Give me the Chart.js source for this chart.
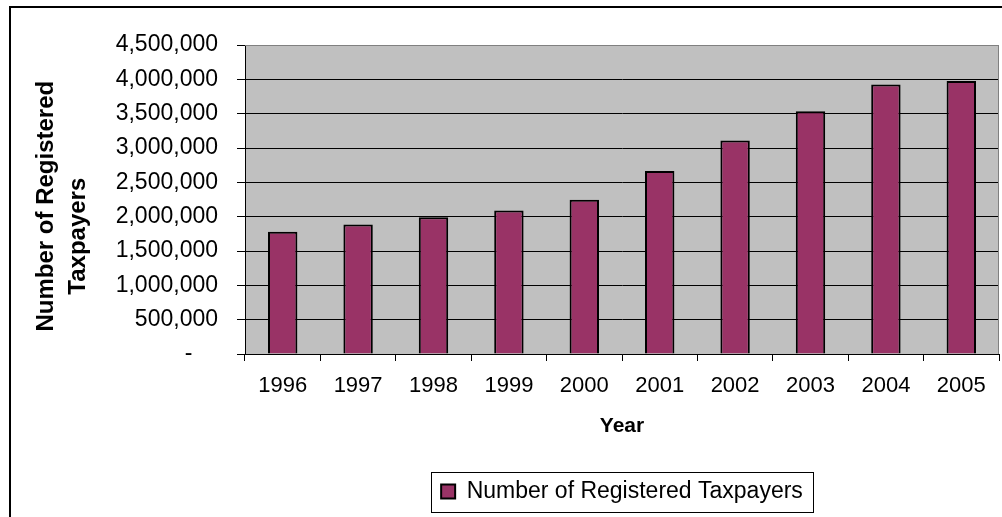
<!DOCTYPE html>
<html>
<head>
<meta charset="utf-8">
<title>Registered Taxpayers</title>
<script src="https://cdn.jsdelivr.net/npm/chart.js@4.4.1/dist/chart.umd.min.js"></script>
<style>
  body { margin: 0; background: #fff; overflow: hidden; }
  .frame { position: absolute; left: 9px; top: 6px; width: 1100px; height: 600px; border-top: 2px solid #000; border-left: 2px solid #000; }
  #myChart { position: absolute; left: 0; top: 0; }
</style>
</head>
<body>
<div class="frame"></div>
<canvas id="myChart" width="1002" height="517"></canvas>
<script>
const years = ['1996', '1997', '1998', '1999', '2000', '2001', '2002', '2003', '2004', '2005']
const taxpayers = [1780000, 1885000, 1990000, 2090000, 2245000, 2665000, 3110000, 3535000, 3925000, 3975000]
const yTickValues = [0, 500000, 1000000, 1500000, 2000000, 2500000, 3000000, 3500000, 4000000, 4500000]

const seriesLabel = 'Number of Registered Taxpayers'
// trailing spaces nudge each rotated line down a bit, like the original
const yTitle = ['Number of Registered  ', 'Taxpayers' + ' '.repeat(11)]
const xTitle = 'Year'

const fontFamily = '"Liberation Sans", Arial, sans-serif'

// grey plot background + frame, box round the legend
const plotBg = {
  id: 'plotBg',
  beforeDraw(chart) {
    const { ctx, chartArea: a } = chart
    ctx.save()
    ctx.fillStyle = '#c0c0c0'
    ctx.fillRect(a.left, a.top, a.right - a.left, a.bottom - a.top)
    ctx.restore()
  },
  afterDraw(chart) {
    const { ctx, chartArea: a } = chart
    ctx.save()
    ctx.strokeStyle = '#808080'
    ctx.lineWidth = 1
    ctx.beginPath()
    ctx.moveTo(a.left, a.top + 0.5)
    ctx.lineTo(a.right - 0.5, a.top + 0.5)
    ctx.lineTo(a.right - 0.5, a.bottom)
    ctx.stroke()

    const hb = chart.legend.legendHitBoxes[0]
    if (hb) {
      const cy = hb.top + hb.height / 2
      ctx.strokeStyle = '#000'
      ctx.strokeRect(Math.round(hb.left - 10) + 0.5, Math.round(cy - 20) + 0.5, Math.round(hb.width + 20), 40)
    }
    ctx.restore()
  }
}

let chart = document.querySelector('#myChart')

let myChart = new Chart(chart, {
  type: 'bar',
  data: {
    labels: years,
    datasets: [
      {
        label: seriesLabel,
        data: taxpayers,
        backgroundColor: '#993366',
        borderColor: '#000',
        borderWidth: 2,
        barPercentage: 0.39,
        categoryPercentage: 1.0
      }
    ]
  },
  options: {
    responsive: false,
    animation: false,
    devicePixelRatio: 1,
    layout: {
      padding: { top: 45, right: 3, left: 0, bottom: 4 }
    },
    plugins: {
      tooltip: { enabled: false },
      legend: {
        position: 'bottom',
        fullSize: false,
        labels: {
          boxWidth: 14,
          boxHeight: 14,
          padding: 4,
          color: '#000',
          font: { family: fontFamily, size: 23 }
        }
      }
    },
    scales: {
      x: {
        afterFit(scale) { scale.height = 122 },
        grid: {
          offset: true,
          drawOnChartArea: false,
          color: '#000',
          tickLength: 7
        },
        border: { color: '#000', width: 1 },
        ticks: {
          color: '#000',
          padding: 12,
          maxRotation: 0,
          autoSkip: false,
          font: { family: fontFamily, size: 22 }
        },
        title: {
          display: true,
          text: xTitle,
          color: '#000',
          padding: { top: 0, bottom: 37 },
          font: { family: fontFamily, size: 21, weight: 'bold' }
        }
      },
      y: {
        min: 0,
        max: 4500000,
        afterFit(scale) { scale.width = 245 },
        afterBuildTicks(scale) {
          scale.ticks = yTickValues.map(v => ({ value: v }))
        },
        grid: {
          color: ctx => (ctx.tick && ctx.tick.value === 4500000 ? '#808080' : '#000'),
          tickColor: '#000',
          tickLength: 8
        },
        border: { color: '#000', width: 1 },
        ticks: {
          color: '#000',
          padding: 19,
          font: { family: fontFamily, size: 23 },
          callback: function(value) {
            if (value === 0) return '-    '
            return value.toLocaleString('en-US')
          }
        },
        title: {
          display: true,
          text: yTitle,
          color: '#000',
          padding: { top: 30, bottom: 0 },
          font: { family: fontFamily, size: 24, weight: 'bold', lineHeight: 1.35 }
        }
      }
    }
  },
  plugins: [plotBg]
});
</script>
</body>
</html>
